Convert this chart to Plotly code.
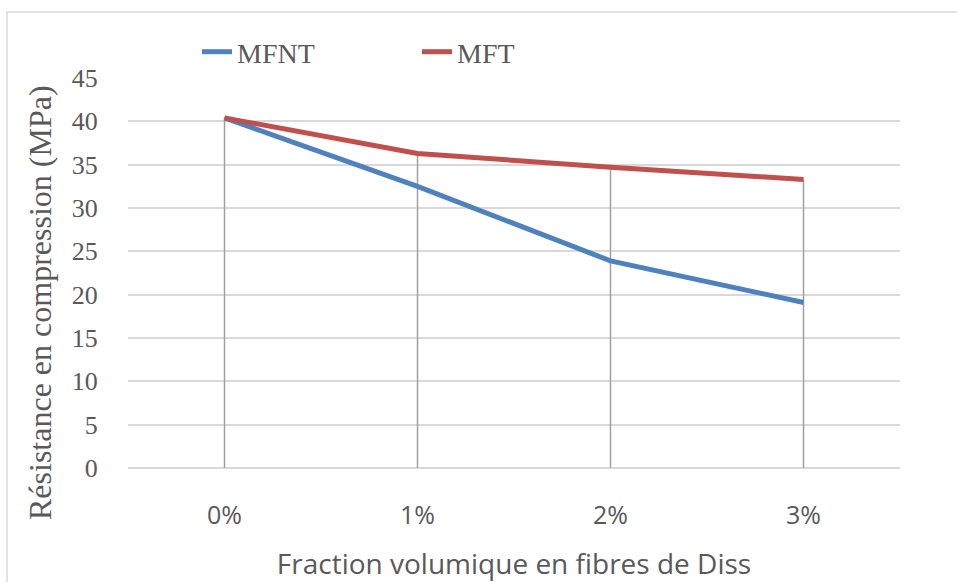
import plotly.graph_objects as go

categories = ["0%", "1%", "2%", "3%"]
mfnt = [40.4, 32.5, 23.9, 19.1]
mft = [40.4, 36.3, 34.7, 33.3]
y_ticks = [0, 5, 10, 15, 20, 25, 30, 35, 40, 45]

# drop lines: from axis (0) up to the highest series value at each category
drop_x, drop_y = [], []
for c, a, b in zip(categories, mfnt, mft):
    drop_x += [c, c, None]
    drop_y += [0, max(a, b), None]

fig = go.Figure()
fig.add_trace(go.Scatter(x=drop_x, y=drop_y, mode="lines",
                         line=dict(color="#A0A0A0", width=1.5),
                         showlegend=False, hoverinfo="skip"))
fig.add_trace(go.Scatter(x=categories, y=mfnt, mode="lines", name="MFNT",
                         line=dict(color="#4F81BD", width=5)))
fig.add_trace(go.Scatter(x=categories, y=mft, mode="lines", name="MFT",
                         line=dict(color="#C0504D", width=5)))

W, H = 957, 582
L, R, T, B = 128, 57, 78, 114
pw, ph = W - L - R, H - T - B

def px_to_paper(x, y):
    return (x - L) / pw, (H - B - y) / ph

x0, y0 = px_to_paper(7, 12)
x1, y1 = px_to_paper(962, 590)
fig.add_shape(type="rect", xref="paper", yref="paper", x0=x0, y0=y1, x1=x1, y1=y0,
              line=dict(color="#D9D9D9", width=1.5), fillcolor="rgba(0,0,0,0)", layer="below")

lx, ly = px_to_paper(197, 52)
tx, ty = px_to_paper(40, 303)
fig.add_annotation(xref="paper", yref="paper", x=tx, y=ty, xanchor="center", yanchor="middle",
                   text="Résistance en compression (MPa)", textangle=-90, showarrow=False,
                   font=dict(family="Liberation Serif", size=32, color="#595959"))

fig.update_layout(
    width=W, height=H,
    margin=dict(l=L, r=R, t=T, b=B),
    paper_bgcolor="white", plot_bgcolor="white",
    legend=dict(orientation="h", x=lx, y=ly, xanchor="left", yanchor="middle",
                font=dict(family="Liberation Serif", size=28, color="#595959"),
                entrywidth=175, bgcolor="rgba(0,0,0,0)"),
    xaxis=dict(type="category", range=[-0.5, 3.5], showgrid=False, zeroline=False,
               automargin=False,
               showline=False, ticks="outside", ticklen=25, tickcolor="rgba(0,0,0,0)",
               tickfont=dict(family="Open Sans", size=25, color="#595959"),
               title=dict(text="Fraction volumique en fibres de Diss",
                          font=dict(family="Open Sans", size=28, color="#595959"),
                          standoff=31)),
    yaxis=dict(range=[0, 45], tickvals=y_ticks, showgrid=True, gridcolor="#D9D9D9",
               gridwidth=1.5, zeroline=True, zerolinecolor="#D9D9D9", zerolinewidth=1.5,
               automargin=False,
               showline=False, ticks="outside", ticklen=24, tickcolor="rgba(0,0,0,0)",
               tickfont=dict(family="Liberation Serif", size=26, color="#595959")),
)

fig.write_html("out.html")
